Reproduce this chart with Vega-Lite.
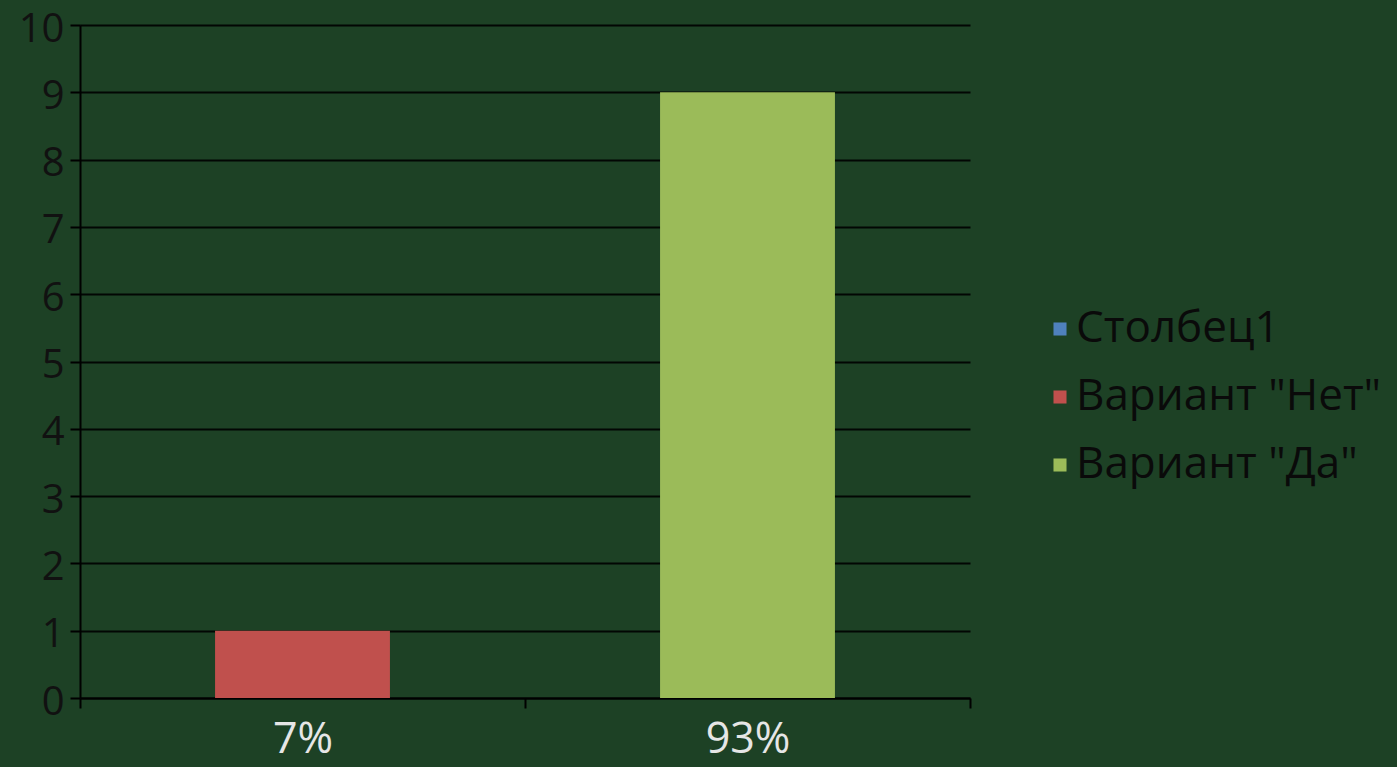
{
  "$schema": "https://vega.github.io/schema/vega-lite/v6.json",
  "autosize": "none",
  "width": 890,
  "height": 673,
  "padding": {"left": 80, "top": 25, "right": 427, "bottom": 69},
  "background": "#1d4125",
  "config": {
    "view": {"stroke": null},
    "font": "Open Sans"
  },
  "data": {
    "values": [
      {"share": "7%", "series": "Вариант \"Нет\"", "count": 1},
      {"share": "93%", "series": "Вариант \"Да\"", "count": 9}
    ]
  },
  "mark": {"type": "bar", "width": {"band": 0.393}},
  "encoding": {
    "x": {
      "field": "share",
      "type": "nominal",
      "sort": ["7%", "93%"],
      "scale": {"paddingInner": 0, "paddingOuter": 0},
      "axis": {
        "title": null,
        "labelAngle": 0,
        "labelFontSize": 43,
        "labelColor": "#e6e6e6",
        "labelPadding": 10,
        "tickBand": "extent",
        "tickColor": "#000000",
        "tickSize": 10,
        "tickWidth": 2,
        "domainColor": "#000000",
        "domainWidth": 2,
        "grid": false
      }
    },
    "y": {
      "field": "count",
      "type": "quantitative",
      "scale": {"domain": [0, 10]},
      "axis": {
        "title": null,
        "values": [0, 1, 2, 3, 4, 5, 6, 7, 8, 9, 10],
        "labelFontSize": 40,
        "labelColor": "#111111",
        "labelPadding": 6,
        "labelOffset": 4,
        "tickColor": "#000000",
        "tickSize": 10,
        "tickWidth": 2,
        "domainColor": "#000000",
        "domainWidth": 2,
        "grid": true,
        "gridColor": "#000000",
        "gridWidth": 2,
        "gridOpacity": 0.9
      }
    },
    "color": {
      "field": "series",
      "type": "nominal",
      "scale": {
        "domain": ["Столбец1", "Вариант \"Нет\"", "Вариант \"Да\""],
        "range": ["#4f81bd", "#c0504d", "#9bbb59"]
      },
      "legend": {
        "title": null,
        "orient": "none",
        "legendX": 958,
        "legendY": 282,
        "symbolType": "square",
        "symbolSize": 170,
        "symbolStrokeWidth": 0,
        "labelFontSize": 44,
        "labelColor": "#0a0a0a",
        "labelLimit": 500,
        "labelOffset": -6,
        "rowPadding": 24
      }
    }
  }
}
